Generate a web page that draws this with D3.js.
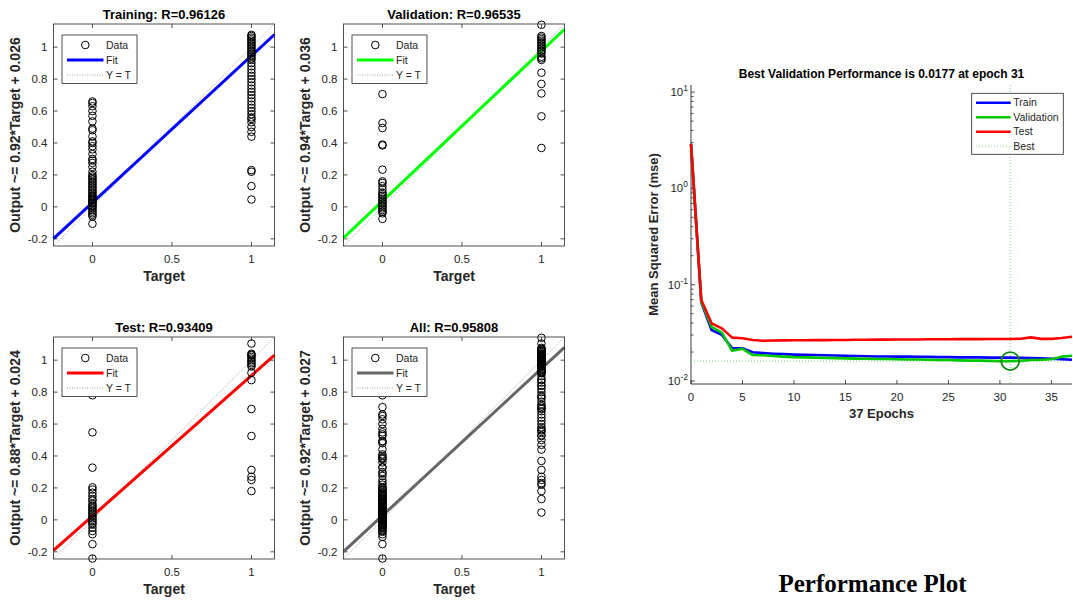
<!DOCTYPE html>
<html lang="en">
  <head>
    <meta charset="utf-8">
    <title>Regression and Performance Plots</title>
    <script src="https://d3js.org/d3.v7.min.js"></script>
    <style>
      body { margin: 0; background: #fff; }
    </style>
  </head>
  <body>
    <script type="text/javascript">
      // ---- regression data (network outputs grouped by target 0 / 1) ----
      const trainT0 = [0.66, 0.65, 0.63, 0.60, 0.57, 0.535, 0.49, 0.48, 0.44, 0.41, 0.40, 0.38, 0.36, 0.33, 0.30, 0.29, 0.275, 0.25,
        0.22, 0.20, 0.19, 0.18, 0.17, 0.16, 0.15, 0.14, 0.13, 0.12, 0.11, 0.10, 0.09, 0.08, 0.07, 0.065, 0.06, 0.05, 0.045, 0.04,
        0.03, 0.025, 0.02, 0.01, 0.005, 0.0, -0.01, -0.02, -0.03, -0.04, -0.05, -0.06, -0.106];
      const trainT1 = [1.077, 1.07, 1.06, 1.05, 1.04, 1.03, 1.02, 1.01, 1.0, 0.99, 0.98, 0.97, 0.96, 0.95, 0.94, 0.93, 0.92, 0.90,
        0.88, 0.86, 0.84, 0.82, 0.80, 0.78, 0.76, 0.74, 0.72, 0.70, 0.68, 0.66, 0.64, 0.62, 0.60, 0.58, 0.56, 0.55, 0.53, 0.50,
        0.47, 0.44, 0.23, 0.22, 0.13, 0.046];
      const valT0 = [0.706, 0.525, 0.494, 0.39, 0.385, 0.233, 0.16, 0.15, 0.13, 0.11, 0.09, 0.08, 0.07, 0.06, 0.05, 0.04, 0.03,
        0.02, 0.01, 0.0, -0.01, -0.02, -0.03, -0.04, -0.075];
      const valT1 = [1.14, 1.07, 1.06, 1.05, 1.04, 1.03, 1.02, 1.01, 1.0, 0.99, 0.98, 0.97, 0.96, 0.94, 0.93, 0.92, 0.84, 0.77,
        0.71, 0.567, 0.369];
      const testT0 = [0.78, 0.548, 0.327, 0.204, 0.19, 0.17, 0.15, 0.13, 0.12, 0.10, 0.09, 0.08, 0.07, 0.06, 0.05, 0.04, 0.03,
        0.02, 0.01, 0.0, -0.01, -0.02, -0.03, -0.05, -0.07, -0.09, -0.152, -0.242];
      const testT1 = [1.104, 1.04, 1.035, 1.03, 1.02, 1.01, 1.0, 0.99, 0.98, 0.97, 0.96, 0.921, 0.875, 0.694, 0.525, 0.3125,
        0.27, 0.25, 0.18];

      const panelNames = ["Training", "Validation", "Test", "All"];
      const panelR = ["0.96126", "0.96535", "0.93409", "0.95808"];
      const fitSlope = [0.92, 0.94, 0.88, 0.92];
      const fitOffset = [0.026, 0.036, 0.024, 0.027];
      const fitColor = ["#0000ff", "#00ff00", "#ff0000", "#666666"];
      const regTicksX = [0, 0.5, 1];
      const regTicksY = [-0.2, 0, 0.2, 0.4, 0.6, 0.8, 1];
      const regLimits = [-0.245, 1.145];

      // ---- performance data (mse per epoch, 0..37) ----
      const epochs = d3.range(0, 38);
      const trainPerf = [2.9, 0.0653, 0.0339, 0.0301, 0.0219, 0.0219, 0.0199, 0.0195, 0.0192, 0.0190, 0.0188, 0.0187, 0.0186,
        0.0185, 0.0184, 0.0183, 0.0182, 0.0181, 0.0180, 0.0180, 0.0179, 0.0179, 0.0178, 0.0178, 0.0177, 0.0177, 0.0176, 0.0176,
        0.0176, 0.0175, 0.0175, 0.0175, 0.0174, 0.0173, 0.0172, 0.0170, 0.0168, 0.0166];
      const valPerf = [2.9, 0.0665, 0.0366, 0.0318, 0.0206, 0.0216, 0.0186, 0.0185, 0.0182, 0.0179, 0.0177, 0.0176, 0.0175,
        0.0174, 0.0173, 0.0172, 0.0171, 0.0170, 0.0169, 0.0169, 0.0168, 0.0167, 0.0167, 0.0166, 0.0165, 0.0165, 0.0164, 0.0163,
        0.0163, 0.0162, 0.0161, 0.0161, 0.0162, 0.0165, 0.0166, 0.0168, 0.0179, 0.0183];
      const testPerf = [2.9, 0.0693, 0.0397, 0.0352, 0.0282, 0.0278, 0.0267, 0.0262, 0.0263, 0.0264, 0.0265, 0.0265, 0.0266,
        0.0266, 0.0267, 0.0267, 0.0268, 0.0268, 0.0269, 0.0269, 0.0270, 0.0270, 0.0270, 0.0271, 0.0271, 0.0271, 0.0272, 0.0272,
        0.0272, 0.0273, 0.0273, 0.0273, 0.0275, 0.0284, 0.0274, 0.0274, 0.0280, 0.0288];
      const perfNames = ["Train", "Validation", "Test"];
      const perfColors = ["#0000ff", "#00c800", "#ff0000"];
      const bestEpoch = 31;
      const bestText = "0.0177";
      const perfTicksX = [0, 5, 10, 15, 20, 25, 30, 35];
      const perfTicksY = [-2, -1, 0, 1];

      const font = "'Liberation Sans', Arial, sans-serif";
      const axisColor = "#262626";

      const svg = d3.select("body")
        .append("svg")
        .attr("width", 1073)
        .attr("height", 601)
        .style("display", "block");

      // ---------- regression panels ----------
      const pointSets = [
        [trainT0, trainT1],
        [valT0, valT1],
        [testT0, testT1],
        [trainT0.concat(valT0, testT0), trainT1.concat(valT1, testT1)]
      ];
      const panelLeft = [53.5, 343.5, 53.5, 343.5];
      const panelTop = [24, 24, 337, 337];
      const panelW = 221;
      const panelH = 222;

      function drawRegression(i) {
        const left = panelLeft[i], top = panelTop[i];
        const x = d3.scaleLinear().domain(regLimits).range([left, left + panelW]);
        const y = d3.scaleLinear().domain(regLimits).range([top + panelH, top]);
        const g = svg.append("g").attr("class", "regression");

        g.append("rect")
          .attr("x", left).attr("y", top)
          .attr("width", panelW).attr("height", panelH)
          .attr("fill", "#fff");

        // ticks, inward on all sides
        g.selectAll(".tx").data(regTicksX).enter().append("path")
          .attr("d", d => `M${x(d)},${top + panelH}v-4M${x(d)},${top}v4`)
          .attr("stroke", axisColor).attr("stroke-width", 0.8);
        g.selectAll(".ty").data(regTicksY).enter().append("path")
          .attr("d", d => `M${left},${y(d)}h4M${left + panelW},${y(d)}h-4`)
          .attr("stroke", axisColor).attr("stroke-width", 0.8);

        g.selectAll(".lx").data(regTicksX).enter().append("text")
          .attr("x", d => x(d)).attr("y", top + panelH + 17)
          .attr("text-anchor", "middle")
          .attr("font-family", font).attr("font-size", "11.5px")
          .attr("fill", axisColor)
          .text(d => d);
        g.selectAll(".ly").data(regTicksY).enter().append("text")
          .attr("x", left - 6).attr("y", d => y(d))
          .attr("dy", "0.35em")
          .attr("text-anchor", "end")
          .attr("font-family", font).attr("font-size", "11.5px")
          .attr("fill", axisColor)
          .text(d => d);

        // Y = T and fit lines
        g.append("line")
          .attr("x1", x(regLimits[0])).attr("y1", y(regLimits[0]))
          .attr("x2", x(regLimits[1])).attr("y2", y(regLimits[1]))
          .attr("stroke", "#888").attr("stroke-width", 0.8)
          .attr("stroke-dasharray", "1,1.5");
        g.append("line")
          .attr("x1", x(regLimits[0])).attr("y1", y(fitSlope[i] * regLimits[0] + fitOffset[i]))
          .attr("x2", x(regLimits[1])).attr("y2", y(fitSlope[i] * regLimits[1] + fitOffset[i]))
          .attr("stroke", fitColor[i]).attr("stroke-width", 3);

        // data circles
        const pts = pointSets[i][0].map(v => [0, v]).concat(pointSets[i][1].map(v => [1, v]));
        g.selectAll("circle").data(pts).enter().append("circle")
          .attr("cx", d => x(d[0])).attr("cy", d => y(d[1]))
          .attr("r", 3.8)
          .attr("fill", "none").attr("stroke", "#000").attr("stroke-width", 1);

        // box
        g.append("rect")
          .attr("x", left).attr("y", top)
          .attr("width", panelW).attr("height", panelH)
          .attr("fill", "none").attr("stroke", axisColor).attr("stroke-width", 0.8);

        // legend
        const lg = g.append("g").attr("transform", `translate(${left + 8.5},${top + 11})`);
        lg.append("rect").attr("width", 75).attr("height", 48.5)
          .attr("fill", "#fff").attr("stroke", axisColor).attr("stroke-width", 0.8);
        lg.append("circle").attr("cx", 23.3).attr("cy", 10).attr("r", 3.8)
          .attr("fill", "none").attr("stroke", "#000").attr("stroke-width", 1);
        lg.append("line").attr("x1", 5).attr("x2", 41.5).attr("y1", 25).attr("y2", 25)
          .attr("stroke", fitColor[i]).attr("stroke-width", 3);
        lg.append("line").attr("x1", 5).attr("x2", 41.5).attr("y1", 40).attr("y2", 40)
          .attr("stroke", "#888").attr("stroke-width", 0.8).attr("stroke-dasharray", "1,1.5");
        lg.selectAll("text").data(["Data", "Fit", "Y = T"]).enter().append("text")
          .attr("x", 44).attr("y", (d, k) => 10 + 15 * k)
          .attr("dy", "0.35em")
          .attr("font-family", font).attr("font-size", "10.5px")
          .attr("fill", axisColor)
          .text(d => d);

        // title and labels
        g.append("text")
          .attr("x", left + panelW / 2).attr("y", top - 5)
          .attr("text-anchor", "middle")
          .attr("font-family", font).attr("font-size", "13px").attr("font-weight", "bold")
          .text(`${panelNames[i]}: R=${panelR[i]}`);
        g.append("text")
          .attr("x", left + panelW / 2).attr("y", top + panelH + 35)
          .attr("text-anchor", "middle")
          .attr("font-family", font).attr("font-size", "14px").attr("font-weight", "bold")
          .attr("fill", axisColor)
          .text("Target");
        g.append("text")
          .attr("transform", `translate(${left - 38},${top + panelH / 2}) rotate(-90)`)
          .attr("dy", "0.35em")
          .attr("text-anchor", "middle")
          .attr("font-family", font).attr("font-size", "14px").attr("font-weight", "bold")
          .attr("fill", axisColor)
          .text(`Output ~= ${fitSlope[i]}*Target + ${fitOffset[i]}`);
      }

      panelNames.forEach((d, i) => drawRegression(i));

      // ---------- performance plot ----------
      const px = d3.scaleLinear().domain([0, 37]).range([691, 1072]);
      const py = d3.scaleLog().domain([Math.pow(10, -2.031), Math.pow(10, 1.074)]).range([384, 85]);
      const pg = svg.append("g").attr("class", "performance");

      // minor / major log ticks
      const minorTicks = [];
      perfTicksY.forEach(e => d3.range(2, 10).forEach(m => {
        const v = m * Math.pow(10, e);
        if (v >= py.domain()[0] && v <= py.domain()[1]) minorTicks.push(v);
      }));
      pg.selectAll(".minor").data(minorTicks).enter().append("path")
        .attr("d", d => `M691,${py(d)}h2.5`)
        .attr("stroke", axisColor).attr("stroke-width", 0.8);
      pg.selectAll(".major").data(perfTicksY).enter().append("path")
        .attr("d", d => `M691,${py(Math.pow(10, d))}h4`)
        .attr("stroke", axisColor).attr("stroke-width", 0.8);
      const ylab = pg.selectAll(".ylab").data(perfTicksY).enter().append("text")
        .attr("x", 688).attr("y", d => py(Math.pow(10, d)))
        .attr("dy", "0.35em")
        .attr("text-anchor", "end")
        .attr("font-family", font).attr("font-size", "11.5px")
        .attr("fill", axisColor);
      ylab.append("tspan").text("10");
      ylab.append("tspan").attr("dy", -5).attr("font-size", "8.5px").text(d => d);

      pg.selectAll(".xt").data(perfTicksX).enter().append("path")
        .attr("d", d => `M${px(d)},384v-4`)
        .attr("stroke", axisColor).attr("stroke-width", 0.8);
      pg.selectAll(".xlab").data(perfTicksX).enter().append("text")
        .attr("x", d => px(d)).attr("y", 401)
        .attr("text-anchor", "middle")
        .attr("font-family", font).attr("font-size", "11.5px")
        .attr("fill", axisColor)
        .text(d => d);

      pg.append("path")
        .attr("d", "M691,85V384H1072")
        .attr("fill", "none").attr("stroke", axisColor).attr("stroke-width", 0.9);

      // best markers
      const bestVal = valPerf[bestEpoch];
      pg.append("line")
        .attr("x1", px(bestEpoch)).attr("x2", px(bestEpoch))
        .attr("y1", py.range()[1]).attr("y2", py.range()[0])
        .attr("stroke", "#7fd07f").attr("stroke-width", 1).attr("stroke-dasharray", "1,2");
      pg.append("line")
        .attr("x1", px(0)).attr("x2", px(37))
        .attr("y1", py(bestVal)).attr("y2", py(bestVal))
        .attr("stroke", "#7fd07f").attr("stroke-width", 1).attr("stroke-dasharray", "1,2");

      const perfLine = d3.line().x((d, k) => px(epochs[k])).y(d => py(d));
      [trainPerf, valPerf, testPerf].forEach((s, k) => {
        pg.append("path")
          .attr("d", perfLine(s))
          .attr("fill", "none")
          .attr("stroke", perfColors[k])
          .attr("stroke-width", 2.6)
          .attr("stroke-linejoin", "round");
      });

      pg.append("circle")
        .attr("cx", px(bestEpoch)).attr("cy", py(bestVal))
        .attr("r", 9)
        .attr("fill", "none").attr("stroke", "#118811").attr("stroke-width", 1.8);

      // legend
      const plg = pg.append("g").attr("transform", "translate(971.7,93.3)");
      plg.append("rect").attr("width", 91.6).attr("height", 61)
        .attr("fill", "#fff").attr("stroke", axisColor).attr("stroke-width", 0.8);
      perfNames.concat(["Best"]).forEach((name, k) => {
        const yy = 9.4 + 14.5 * k;
        plg.append("line").attr("x1", 4.3).attr("x2", 39).attr("y1", yy).attr("y2", yy)
          .attr("stroke", k < 3 ? perfColors[k] : "#7fd07f")
          .attr("stroke-width", k < 3 ? 2.6 : 1)
          .attr("stroke-dasharray", k < 3 ? null : "1,2");
        plg.append("text").attr("x", 41.6).attr("y", yy).attr("dy", "0.35em")
          .attr("font-family", font).attr("font-size", "10.5px")
          .attr("fill", axisColor)
          .text(name);
      });

      // titles
      pg.append("text")
        .attr("x", 881.5).attr("y", 77.5)
        .attr("text-anchor", "middle")
        .attr("font-family", font).attr("font-size", "12px").attr("font-weight", "bold")
        .text(`Best Validation Performance is ${bestText} at epoch ${bestEpoch}`);
      pg.append("text")
        .attr("x", 881.5).attr("y", 418)
        .attr("text-anchor", "middle")
        .attr("font-family", font).attr("font-size", "13px").attr("font-weight", "bold")
        .attr("fill", axisColor)
        .text(`${epochs.length - 1} Epochs`);
      pg.append("text")
        .attr("transform", "translate(653,234.5) rotate(-90)")
        .attr("dy", "0.35em")
        .attr("text-anchor", "middle")
        .attr("font-family", font).attr("font-size", "13px").attr("font-weight", "bold")
        .attr("fill", axisColor)
        .text("Mean Squared Error  (mse)");

      svg.append("text")
        .attr("x", 872.5).attr("y", 591.5)
        .attr("text-anchor", "middle")
        .attr("font-family", "'Liberation Serif', 'Times New Roman', serif")
        .attr("font-size", "25px").attr("font-weight", "bold")
        .text("Performance Plot");
    </script>
  </body>
</html>
